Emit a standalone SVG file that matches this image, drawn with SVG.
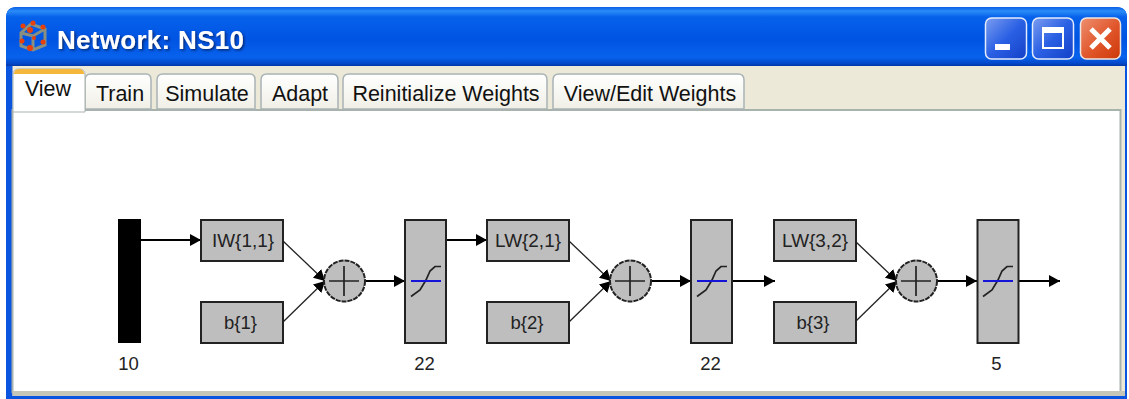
<svg xmlns="http://www.w3.org/2000/svg" width="1129" height="399" viewBox="0 0 1129 399">
<defs>
<linearGradient id="tb" x1="0" y1="0" x2="0" y2="1">
<stop offset="0" stop-color="#0a5fe6"/><stop offset="0.07" stop-color="#2a8cf8"/><stop offset="0.17" stop-color="#0661ea"/><stop offset="0.55" stop-color="#0054e3"/><stop offset="0.85" stop-color="#0862ec"/><stop offset="0.95" stop-color="#0349cc"/><stop offset="1" stop-color="#0138a8"/>
</linearGradient>
<linearGradient id="btn" x1="0" y1="0" x2="1" y2="1"><stop offset="0" stop-color="#7c9df0"/><stop offset="0.5" stop-color="#2a60e4"/><stop offset="1" stop-color="#1440c8"/></linearGradient>
<linearGradient id="cls" x1="0" y1="0" x2="1" y2="1"><stop offset="0" stop-color="#ee9070"/><stop offset="0.55" stop-color="#e0552a"/><stop offset="1" stop-color="#cc3808"/></linearGradient>
<linearGradient id="tab" x1="0" y1="0" x2="0" y2="1"><stop offset="0" stop-color="#ffffff"/><stop offset="1" stop-color="#f0efe6"/></linearGradient>
<filter id="sh" x="-5%" y="-20%" width="110%" height="150%"><feDropShadow dx="1.500" dy="1.500" stdDeviation="1" flood-color="#00206a" flood-opacity="0.9"/></filter>
<marker id="ah" markerUnits="userSpaceOnUse" markerWidth="12" markerHeight="14" refX="11" refY="7" orient="auto"><path d="M0,1 L11,7 L0,13 Z" fill="#000"/></marker>
</defs>
<style>
.t{font-family:"Liberation Sans",Arial,sans-serif;fill:#111}
.tab{fill:url(#tab);stroke:#a9b3b5;stroke-width:1.5}
.tl{font-size:21.500px;text-anchor:middle}
.b{fill:#bebebe;stroke:#222;stroke-width:2}
.s{fill:#bebebe;stroke:#222;stroke-width:2;stroke-dasharray:5 1}
.nl{font-size:18px;text-anchor:middle;fill:#222}
.dl{font-size:18.500px;text-anchor:middle;fill:#222}
.c{fill:none;stroke:#000;stroke-width:2}
.d{fill:none;stroke:#222;stroke-width:1.300}
.ar{marker-end:url(#ah)}
.sym{fill:none;stroke:#222;stroke-width:1.700}
.bl{stroke:#1414d8;stroke-width:2}
</style>
<rect width="1129" height="399" fill="#fff"/>
<g id="window">
<path d="M6,399 V18 Q6,7 17,7 H1116 Q1127,7 1127,18 V399 Z" fill="#0a55e0"/>
<path d="M6,66 V18 Q6,7 17,7 H1116 Q1127,7 1127,18 V66 Z" fill="url(#tb)"/>
<rect x="12.500" y="66" width="1112.500" height="330" fill="#ece9d8"/>
<rect x="12.500" y="110" width="1108" height="282" fill="#fff" stroke="#a9b3ad" stroke-width="2"/>
<rect x="12.500" y="391" width="1112.500" height="5" fill="#c4c6b8"/>
</g>
<g id="icon">
<path d="M21,33 L21,46 L33,50 L45,45 L45,29 L31,24 Z M21,33 L33,36 L45,29 M33,36 V50" fill="none" stroke="#8a8f80" stroke-width="3"/>
<g fill="#e8400c"><circle cx="23" cy="26" r="2.500"/><circle cx="33" cy="23" r="2.500"/><circle cx="30" cy="30" r="3"/><circle cx="43" cy="27" r="2.500"/><circle cx="22" cy="41" r="2.500"/><circle cx="34" cy="38" r="2"/><circle cx="43" cy="42" r="2.500"/><circle cx="30" cy="48" r="3"/></g>
</g>
<text id="title" class="t" x="57" y="49" font-size="26" font-weight="bold" textLength="187" filter="url(#sh)" style="fill:#fff">Network: NS10</text>
<g id="buttons">
<rect x="985.500" y="18" width="41" height="41" rx="6" fill="url(#btn)" stroke="#e4ecfb" stroke-width="1.500"/>
<rect x="995" y="44" width="15" height="6" fill="#fff"/>
<rect x="1032.500" y="18" width="41" height="41" rx="6" fill="url(#btn)" stroke="#e4ecfb" stroke-width="1.500"/>
<rect x="1043" y="28" width="20" height="20" fill="none" stroke="#fff" stroke-width="2"/><rect x="1043" y="28" width="20" height="5" fill="#fff"/>
<rect x="1080.500" y="18" width="40" height="41" rx="6" fill="url(#cls)" stroke="#f0e6e0" stroke-width="1.500"/>
<path d="M1091,29 L1110,48 M1110,29 L1091,48" stroke="#fff" stroke-width="5"/>
</g>
<g id="tabs">
<path class="tab" d="M85,109 V80 Q85,74 91,74 H146 Q151,74 151,80 V109 Z"/>
<path class="tab" d="M157,109 V80 Q157,74 163,74 H250 Q255,74 255,80 V109 Z"/>
<path class="tab" d="M261,109 V80 Q261,74 267,74 H332 Q338,74 338,80 V109 Z"/>
<path class="tab" d="M343,109 V80 Q343,74 349,74 H542 Q547,74 547,80 V109 Z"/>
<path class="tab" d="M553,109 V80 Q553,74 559,74 H738 Q744,74 744,80 V109 Z"/>
<path d="M13,112 V75 Q13,69 19,69 H79 Q85,69 85,75 V112 Z" fill="#fff" stroke="#a9b3ad" stroke-width="1"/>
<path d="M14,74 V73 Q15,69 19,69 H79 Q83,69 84,73 V74 Z" fill="#f5b63c"/>
<text class="t tl" x="48" y="96">View</text>
<text class="t tl" x="120" y="101">Train</text>
<text class="t tl" x="207" y="101">Simulate</text>
<text class="t tl" x="300" y="101">Adapt</text>
<text class="t tl" x="446" y="101">Reinitialize Weights</text>
<text class="t tl" x="650" y="101">View/Edit Weights</text>
</g>
<g id="connectors">
<path class="c ar" d="M141,240 H201"/>
<path class="d ar" d="M283,241 L325,281"/>
<path class="d ar" d="M283,322 L325,281"/>
<path class="c ar" d="M365,281 H405"/>
<path class="c ar" d="M446,240 H487"/>
<path class="d ar" d="M569,241 L611,281"/>
<path class="d ar" d="M569,322 L611,281"/>
<path class="c ar" d="M651,281 H691"/>
<path class="c ar" d="M732,281 H775"/>
<path class="d ar" d="M855,241 L897,281"/>
<path class="d ar" d="M855,322 L897,281"/>
<path class="c ar" d="M937,281 H977"/>
<path class="c ar" d="M1019,281 H1060"/>
</g>
<g id="input"><rect x="118" y="219" width="23" height="124" fill="#000"/><text class="t dl" x="128.500" y="370">10</text></g>
<g id="iw11"><rect class="b" x="201" y="220" width="82" height="41"/><text class="t nl" x="243" y="247" textLength="62" lengthAdjust="spacingAndGlyphs">IW{1,1}</text></g>
<g id="b1"><rect class="b" x="201" y="302" width="82" height="41"/><text class="t nl" x="240.500" y="329" textLength="33" lengthAdjust="spacingAndGlyphs">b{1}</text></g>
<g id="sum1"><circle class="s" cx="344.500" cy="281" r="20.500"/><path class="sym" d="M329,281 H359 M344,266 V296"/></g>
<g id="tansig1"><rect class="b" x="405" y="220" width="41" height="123"/><path class="sym" d="M411,296.500 L420,290 L426,280 L430,271 L435,266.500 H441"/><path class="bl" d="M411,281 H441"/><text class="t dl" x="424.500" y="370">22</text></g>
<g id="lw21"><rect class="b" x="487" y="220" width="82" height="41"/><text class="t nl" x="528" y="247" textLength="66" lengthAdjust="spacingAndGlyphs">LW{2,1}</text></g>
<g id="b2"><rect class="b" x="487" y="302" width="82" height="41"/><text class="t nl" x="527" y="329" textLength="33" lengthAdjust="spacingAndGlyphs">b{2}</text></g>
<g id="sum2"><circle class="s" cx="630.500" cy="281" r="20.500"/><path class="sym" d="M615,281 H645 M630,266 V296"/></g>
<g id="tansig2"><rect class="b" x="691" y="220" width="41" height="123"/><path class="sym" d="M697,296.500 L706,290 L712,280 L716,271 L721,266.500 H727"/><path class="bl" d="M697,281 H727"/><text class="t dl" x="710.500" y="370">22</text></g>
<g id="lw32"><rect class="b" x="774" y="220" width="82" height="41"/><text class="t nl" x="815" y="247" textLength="66" lengthAdjust="spacingAndGlyphs">LW{3,2}</text></g>
<g id="b3"><rect class="b" x="774" y="302" width="82" height="41"/><text class="t nl" x="813" y="329" textLength="33" lengthAdjust="spacingAndGlyphs">b{3}</text></g>
<g id="sum3"><circle class="s" cx="916.500" cy="281" r="20.500"/><path class="sym" d="M901,281 H931 M916,266 V296"/></g>
<g id="tansig3"><rect class="b" x="977.500" y="220" width="41" height="123"/><path class="sym" d="M983,296.500 L992,290 L998,280 L1002,271 L1007,266.500 H1013"/><path class="bl" d="M983,281 H1013"/><text class="t dl" x="996.500" y="370">5</text></g>
</svg>
